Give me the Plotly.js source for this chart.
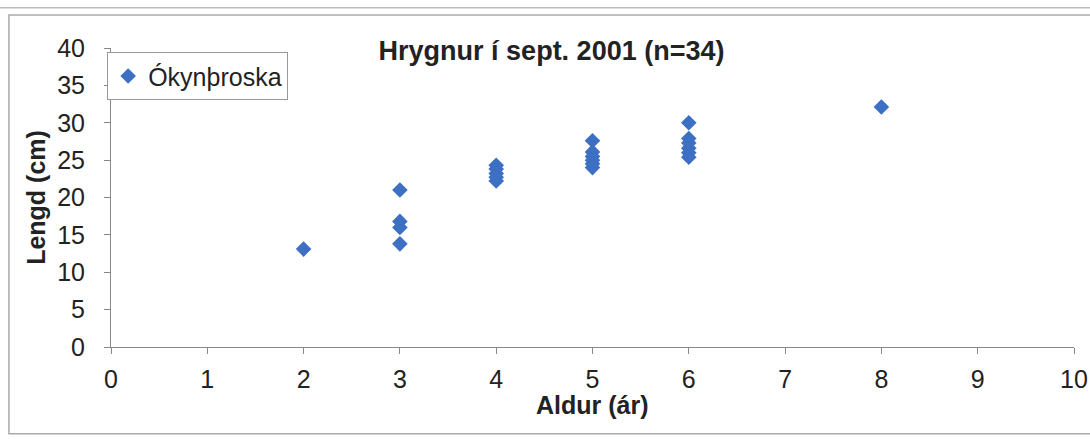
<!DOCTYPE html>
<html>
<head>
<meta charset="utf-8">
<script src="https://cdn.plot.ly/plotly-3.0.1.min.js"></script>
<style>
  html, body { margin: 0; padding: 0; background: #fff; }
  #plot { width: 1090px; height: 439px; }
</style>
</head>
<body>
<div id="plot"></div>
<script>
// Aldur (ár) og lengd (cm) hrygna, lesið af myndinni
const aldur = [2, 3, 3, 3, 3, 4, 4, 4, 4, 4, 5, 5, 5, 5, 5, 5, 6, 6, 6, 6, 6, 6, 8];
const lengd = [13.1, 21.0, 16.8, 16.0, 13.8, 24.3, 23.8, 23.2, 22.7, 22.2,
               27.6, 26.1, 25.5, 25.0, 24.5, 24.0, 30.0, 27.9, 27.3, 26.6, 26.0, 25.4, 32.1];
const xTicks = [0, 1, 2, 3, 4, 5, 6, 7, 8, 9, 10];
const yTicks = [0, 5, 10, 15, 20, 25, 30, 35, 40];

const FONT = 'Liberation Sans, Arial';

const trace = {
    x: aldur,
    y: lengd,
    name: 'Ókynþroska',
    mode: 'markers',
    type: 'scatter',
    marker: { symbol: 'diamond', size: 12, color: '#3d6fc2' },
    cliponaxis: false
};

const layout = {
    width: 1090,
    height: 439,
    margin: { l: 111, r: 16, t: 48, b: 92 },
    paper_bgcolor: '#fff',
    plot_bgcolor: '#fff',
    showlegend: true,
    title: {
        text: '<b>Hrygnur í sept. 2001 (n=34)</b>',
        font: { family: FONT, size: 27, color: '#222' },
        x: 0.506, xanchor: 'center',
        y: 0.884, yanchor: 'middle'
    },
    xaxis: {
        range: [0, 10],
        tickmode: 'array',
        tickvals: xTicks,
        ticktext: xTicks.map(String),
        showgrid: false, zeroline: false,
        showline: true, linecolor: '#888', linewidth: 1,
        ticks: 'outside', ticklen: 6, tickcolor: '#888',
        tickfont: { family: FONT, size: 25, color: '#222' },
        ticklabelstandoff: 4
    },
    yaxis: {
        range: [0, 40],
        tickmode: 'array',
        tickvals: yTicks,
        ticktext: yTicks.map(String),
        showgrid: false, zeroline: false,
        showline: true, linecolor: '#888', linewidth: 1,
        ticks: 'outside', ticklen: 6, tickcolor: '#888',
        tickfont: { family: FONT, size: 25, color: '#222' },
        ticklabelstandoff: 14,
        title: { text: '<b>Lengd (cm)</b>', font: { family: FONT, size: 25, color: '#222' }, standoff: 4 }
    },
    annotations: [
        { text: '<b>Aldur (ár)</b>', xref: 'paper', yref: 'paper', x: 0.5, y: -0.14,
          xanchor: 'center', yanchor: 'top', showarrow: false,
          font: { family: FONT, size: 25, color: '#222' } }
    ],
    legend: {
        x: -0.004, y: 0.986, xanchor: 'left', yanchor: 'top',
        bgcolor: '#fff',
        bordercolor: '#999',
        borderwidth: 1,
        itemsizing: 'constant',
        font: { family: FONT, size: 25, color: '#222' },
        itemwidth: 30
    },
    shapes: [
        { type: 'rect', xref: 'paper', yref: 'paper', x0: -0.106, x1: 1.02, y0: -0.29, y1: 1.11,
          line: { color: '#aaa', width: 1.5 }, fillcolor: 'rgba(0,0,0,0)' },
        { type: 'line', xref: 'paper', yref: 'paper', x0: -0.12, x1: 1.02, y0: 1.135, y1: 1.135,
          line: { color: '#bbb', width: 1.5 } }
    ]
};

Plotly.newPlot('plot', [trace], layout, { displayModeBar: false, staticPlot: true });
</script>
</body>
</html>
